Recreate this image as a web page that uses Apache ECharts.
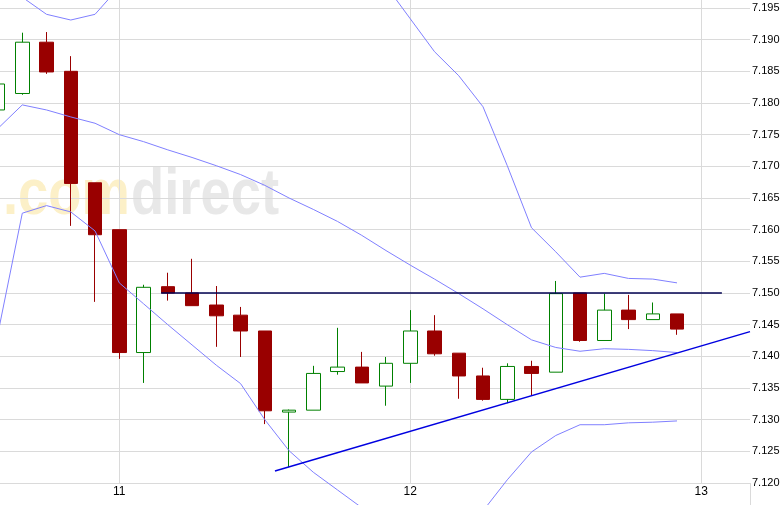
<!DOCTYPE html>
<html>
<head>
<meta charset="utf-8">
<script src="https://cdn.jsdelivr.net/npm/echarts@6/dist/echarts.min.js"></script>
<style>
html,body{margin:0;padding:0;background:#fff;}
#chart{width:784px;height:505px;}
</style>
</head>
<body>
<div id="chart"></div>
<script>
// Candle times in hours relative to day 11 00:00 (2-hour candles)
const candleHours = [-10,-8,-6,-4,-2,0,2,4,6,8,10,12,14,16,18,20,22,24,26,28,30,32,34,36,38,40,42,44,46];
const openPrices  = [7.1789,7.1815,7.1896,7.1850,7.1674,7.1600,7.1406,7.1510,7.1500,7.1481,7.1465,7.1440,7.1312,7.1315,7.1376,7.1383,7.1353,7.1389,7.1440,7.1405,7.1369,7.1332,7.1384,7.1375,7.1500,7.1425,7.1473,7.1458,7.1467];
const closePrices = [7.1830,7.1896,7.1849,7.1673,7.1592,7.1406,7.1509,7.1500,7.1480,7.1464,7.1440,7.1314,7.1315,7.1373,7.1383,7.1358,7.1389,7.1440,7.1404,7.1369,7.1332,7.1384,7.1373,7.1499,7.1425,7.1473,7.1458,7.1467,7.1443];
const lowPrices   = [7.1789,7.1813,7.1846,7.1606,7.1486,7.1396,7.1358,7.1488,7.1480,7.1415,7.1399,7.1293,7.1225,7.1315,7.1371,7.1358,7.1322,7.1358,7.1401,7.1333,7.1330,7.1326,7.1338,7.1375,7.1423,7.1425,7.1443,7.1458,7.1434];
const highPrices  = [7.1830,7.1911,7.1912,7.1874,7.1674,7.1600,7.1513,7.1532,7.1554,7.1511,7.1478,7.1440,7.1316,7.1385,7.1445,7.1407,7.1399,7.1473,7.1465,7.1405,7.1382,7.1389,7.1393,7.1519,7.1500,7.1499,7.1497,7.1485,7.1467];
// Bollinger bands
const bandUpper  = [7.2083,7.1967,7.1940,7.1931,7.1940,7.1983,7.1995,7.2002,7.2010,7.2015,7.2017,7.2040,7.2050,7.2046,7.2037,7.2020,7.1985,7.1933,7.1881,7.1843,7.1794,7.1701,7.1603,7.1565,7.1525,7.1531,7.1523,7.1522,7.1516];
const bandMiddle = [7.1760,7.1797,7.1789,7.1778,7.1768,7.1750,7.1739,7.1726,7.1714,7.1701,7.1687,7.1670,7.1650,7.1632,7.1613,7.1591,7.1567,7.1544,7.1522,7.1499,7.1475,7.1450,7.1426,7.1414,7.1408,7.1412,7.1411,7.1409,7.1406];
const bandLower  = [7.1437,7.1626,7.1638,7.1628,7.1598,7.1516,7.1483,7.1450,7.1418,7.1386,7.1357,7.1300,7.1251,7.1217,7.1189,7.1161,7.1145,7.1138,7.1142,7.1148,7.1156,7.1205,7.1249,7.1275,7.1292,7.1292,7.1295,7.1296,7.1298];
// Drawn lines
const resistanceLine = [[3.45, 7.150], [49.7, 7.150]];
const supportLine = [[12.84, 7.1219], [52.02, 7.1439]];
// Axis ticks
const dayTicks = [0, 24, 48];
const dayLabels = ['11', '12', '13'];

const chart = echarts.init(document.getElementById('chart'), null, {renderer: 'canvas'});
const zip = (arr) => candleHours.map((h, i) => [h, arr[i]]);
const gridColor = '#dadada';

chart.setOption({
  animation: false,
  backgroundColor: '#ffffff',
  grid: {left: 0, right: 34, top: -1, bottom: 22, outerBoundsMode: 'none', containLabel: false},
  xAxis: {
    type: 'value',
    min: -9.839,
    max: 52.02,
    axisLine: {show: false},
    axisTick: {show: false, customValues: dayTicks},
    axisLabel: {
      customValues: dayTicks,
      formatter: (v) => { const k = dayTicks.indexOf(v); return k >= 0 ? dayLabels[k] : ''; },
      color: '#000', fontSize: 12, fontFamily: 'Liberation Sans, Arial, sans-serif', margin: 3
    },
    splitLine: {show: true, lineStyle: {color: gridColor, width: 1}}
  },
  yAxis: {
    type: 'value',
    position: 'right',
    min: 7.120,
    max: 7.19642,
    interval: 0.005,
    axisLine: {show: true, lineStyle: {color: gridColor}},
    axisTick: {show: false},
    axisLabel: {
      formatter: (v) => v > 7.1951 ? '' : v.toFixed(3),
      color: '#000', fontSize: 11, fontFamily: 'Liberation Sans, Arial, sans-serif', margin: 2
    },
    splitLine: {show: true, lineStyle: {color: gridColor, width: 1}}
  },
  graphic: [
    {type: 'text', x: 3, y: 196, scaleX: 0.85, z: -10, silent: true,
     style: {text: '.com', font: 'bold 64px "Liberation Sans", Arial, sans-serif', fill: '#fcf0c8', verticalAlign: 'middle', align: 'left'}},
    {type: 'text', x: 131, y: 196, scaleX: 0.85, z: -10, silent: true,
     style: {text: 'direct', font: 'bold 64px "Liberation Sans", Arial, sans-serif', fill: '#e8e8e8', verticalAlign: 'middle', align: 'left'}},
    {type: 'line', z: -5, silent: true, shape: {x1: 750.5, y1: 483, x2: 750.5, y2: 505}, style: {stroke: gridColor, lineWidth: 1}}
  ],
  series: [
    {
      type: 'candlestick',
      data: candleHours.map((h, i) => [h, openPrices[i], closePrices[i], lowPrices[i], highPrices[i]]),
      encode: {x: 0, y: [1, 2, 3, 4]},
      barWidth: 14,
      clip: false,
      itemStyle: {color: '#ffffff', color0: '#990000', borderColor: '#008000', borderColor0: '#990000', borderWidth: 1},
      z: 2
    },
    {type: 'line', data: zip(bandUpper), showSymbol: false, symbol: 'none', clip: false, lineStyle: {color: '#8080ff', width: 1}, z: 3},
    {type: 'line', data: zip(bandMiddle), showSymbol: false, symbol: 'none', clip: false, lineStyle: {color: '#8080ff', width: 1}, z: 3},
    {type: 'line', data: zip(bandLower), showSymbol: false, symbol: 'none', clip: false, lineStyle: {color: '#8080ff', width: 1}, z: 3},
    {type: 'line', data: resistanceLine, showSymbol: false, symbol: 'none', clip: false, lineStyle: {color: '#000050', width: 1.3}, z: 4},
    {type: 'line', data: supportLine, showSymbol: false, symbol: 'none', clip: false, lineStyle: {color: '#0000e0', width: 1.5}, z: 4}
  ]
});
</script>
</body>
</html>
